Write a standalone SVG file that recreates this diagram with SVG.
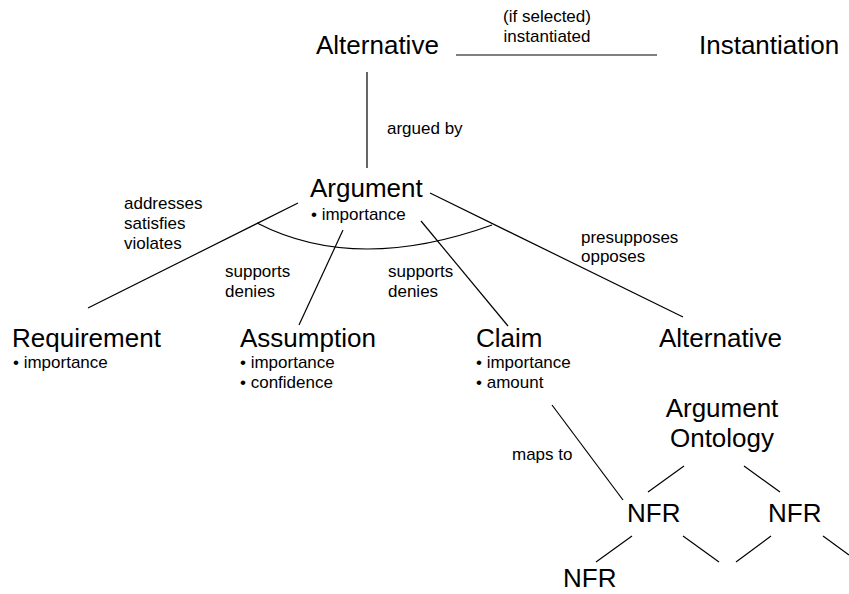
<svg xmlns="http://www.w3.org/2000/svg" width="849" height="594" viewBox="0 0 849 594">
<style>
.big{font-family:"Liberation Sans",Arial,sans-serif;font-size:26px;fill:#000}
.sm{font-family:"Liberation Sans",Arial,sans-serif;font-size:17px;fill:#000}
.ln{stroke:#000;stroke-width:1.2;fill:none}
</style>
<rect width="849" height="594" fill="#fff"/>
<g id="connectors">
<line class="ln" x1="456" y1="55" x2="657" y2="55"/>
<line class="ln" x1="367" y1="72" x2="367" y2="168"/>
<line class="ln" x1="298" y1="203" x2="88" y2="308"/>
<line class="ln" x1="343" y1="230" x2="299" y2="325"/>
<line class="ln" x1="421" y1="221" x2="508" y2="326"/>
<line class="ln" x1="430" y1="193" x2="683" y2="317"/>
<path class="ln" d="M257,223 Q356,274 492,225"/>
<line class="ln" x1="552" y1="405" x2="623" y2="500"/>
<line class="ln" x1="684" y1="466" x2="648" y2="492"/>
<line class="ln" x1="744" y1="466" x2="780" y2="492"/>
<line class="ln" x1="632" y1="536" x2="596" y2="562"/>
<line class="ln" x1="683" y1="536" x2="719" y2="562"/>
<line class="ln" x1="771" y1="536" x2="736" y2="562"/>
<line class="ln" x1="823" y1="536" x2="849" y2="555"/>
<text class="sm" x="547" y="22" text-anchor="middle">(if selected)</text>
<text class="sm" x="547" y="42" text-anchor="middle">instantiated</text>
<text class="sm" x="387" y="134">argued by</text>
<text class="sm" x="124" y="209">addresses</text>
<text class="sm" x="124" y="229">satisfies</text>
<text class="sm" x="124" y="249">violates</text>
<text class="sm" x="225" y="277">supports</text>
<text class="sm" x="225" y="297">denies</text>
<text class="sm" x="388" y="277">supports</text>
<text class="sm" x="388" y="297">denies</text>
<text class="sm" x="581" y="243">presupposes</text>
<text class="sm" x="581" y="262">opposes</text>
<text class="sm" x="512" y="460">maps to</text>
</g>
<g id="alternative-top"><text class="big" x="316" y="54">Alternative</text></g>
<g id="instantiation"><text class="big" x="699" y="54">Instantiation</text></g>
<g id="argument"><text class="big" x="310" y="197">Argument</text><text class="sm" x="311" y="220">• importance</text></g>
<g id="requirement"><text class="big" x="12" y="347">Requirement</text><text class="sm" x="13" y="368">• importance</text></g>
<g id="assumption"><text class="big" x="240" y="347">Assumption</text><text class="sm" x="240" y="368">• importance</text><text class="sm" x="240" y="388">• confidence</text></g>
<g id="claim"><text class="big" x="476" y="347">Claim</text><text class="sm" x="476" y="368">• importance</text><text class="sm" x="476" y="388">• amount</text></g>
<g id="alternative-right"><text class="big" x="659" y="347">Alternative</text></g>
<g id="argument-ontology"><text class="big" x="722" y="417" text-anchor="middle">Argument</text><text class="big" x="722" y="447" text-anchor="middle">Ontology</text></g>
<g id="nfr1"><text class="big" x="627" y="522">NFR</text></g>
<g id="nfr2"><text class="big" x="768" y="522">NFR</text></g>
<g id="nfr3"><text class="big" x="563" y="587">NFR</text></g>
</svg>
